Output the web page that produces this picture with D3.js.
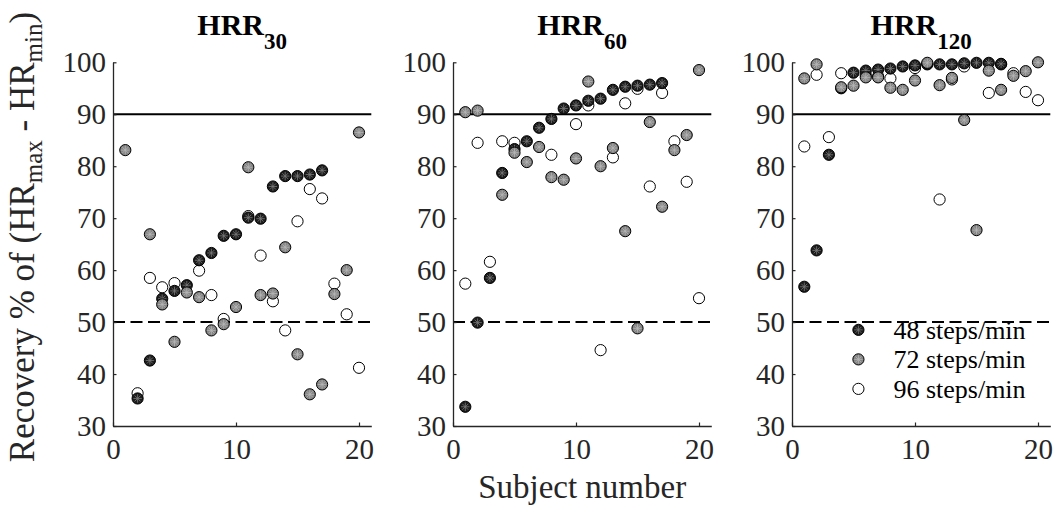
<!DOCTYPE html>
<html>
<head>
<meta charset="utf-8">
<script src="https://cdn.jsdelivr.net/npm/d3@7"></script>
<style>
  body { margin: 0; background: #fff; }
  svg { display: block; font-family: "Liberation Serif", "Times New Roman", serif; }
</style>
</head>
<body>
<div id="chart"></div>
<script>
// Subjects and recovery values (%); null = no marker visible
const subjects = [1, 2, 3, 4, 5, 6, 7, 8, 9, 10, 11, 12, 13, 14, 15, 16, 17, 18, 19, 20];

const hrr30_48 = [null, 35.3, 42.6, 54.5, 56.0, 57.1, 61.9, 63.3, 66.6, 66.9, 70.1, 69.9, 76.1, 78.1, 78.1, 78.4, 79.2, null, null, null];
const hrr30_72 = [83.1, null, 66.9, 53.4, 46.2, 55.7, 54.8, 48.4, 49.6, 52.9, 79.8, 55.2, 55.5, 64.4, 43.8, 36.1, 38.0, 55.4, 60.0, 86.5];
const hrr30_96 = [null, 36.3, 58.5, 56.7, 57.5, null, 59.9, 55.2, 50.6, null, 70.4, 62.8, 54.0, 48.4, 69.4, 75.6, 73.8, 57.4, 51.5, 41.2];

const hrr60_48 = [33.7, 49.9, 58.5, 78.7, 83.3, 84.8, 87.4, 89.1, 91.1, 91.7, 92.6, 93.0, 94.7, 95.3, 95.5, 95.7, 96.0, null, null, null];
const hrr60_72 = [90.4, 90.7, null, 74.5, 82.6, 80.8, 83.7, 77.9, 77.4, 81.5, 96.3, 80.0, 83.5, 67.5, 48.8, 88.5, 72.2, 83.1, 86.0, 98.5];
const hrr60_96 = [57.4, 84.5, 61.6, 84.8, 84.5, null, null, 82.2, null, 88.1, 91.7, 44.6, 81.7, 92.1, 94.9, 76.1, 94.1, 84.8, 77.0, 54.6];

const hrr120_48 = [56.8, 63.8, 82.2, 95.0, 98.0, 98.4, 98.6, 98.8, 99.2, 99.4, 99.6, 99.6, 99.6, 99.8, 99.9, 99.9, 99.7, null, null, null];
const hrr120_72 = [96.9, 99.6, null, 95.2, 95.5, 97.1, 97.1, 95.1, 94.7, 96.5, 99.9, 95.6, 97.0, 88.9, 67.7, 98.4, 94.7, 97.4, 98.3, 100.0];
const hrr120_96 = [83.8, 97.6, 85.6, 97.9, null, 97.5, 97.3, 96.9, null, 98.9, 99.7, 73.6, 96.7, 99.2, null, 94.1, 99.6, 97.9, 94.3, 92.7];

const panelNames = ['30', '60', '120'];
const seriesNames = ['48 steps/min', '72 steps/min', '96 steps/min'];
const xTicks = [0, 10, 20];
const yTicks = [30, 40, 50, 60, 70, 80, 90, 100];
const refLines = [90, 50];

const panels = [
  [hrr30_48, hrr30_72, hrr30_96],
  [hrr60_48, hrr60_72, hrr60_96],
  [hrr120_48, hrr120_72, hrr120_96]
];

const W = 1055, H = 505;
const axisColor = '#262626';
const fills = ['#1c1c1c', '#858585', '#ffffff'];
const starColors = ['#7a7a7a', '#b8b8b8', null];
const drawOrder = [2, 0, 1]; // white markers sit underneath, gray on top
const panelLeft = [113, 453, 792];
const panelW = 258.3;
const plotTop = 62.3, plotBottom = 426;
const R = 5.6;

const svg = d3.select('#chart').append('svg')
  .attr('width', W)
  .attr('height', H);

const y = d3.scaleLinear().domain([30, 100]).range([plotBottom, plotTop]);

// small asterisk drawn over filled markers (MATLAB-like look)
function star(r) {
  const d = r * 0.75, k = d * Math.SQRT1_2;
  return `M${-d},0L${d},0M0,${-d}L0,${d}M${-k},${-k}L${k},${k}M${-k},${k}L${k},${-k}`;
}

function marker(sel, s) {
  sel.append('circle')
    .attr('r', R)
    .attr('fill', fills[s])
    .attr('stroke', '#000')
    .attr('stroke-width', 1);
  if (starColors[s]) {
    sel.append('path')
      .attr('d', star(R))
      .attr('stroke', starColors[s])
      .attr('stroke-width', 0.8)
      .attr('fill', 'none');
  }
}

panels.forEach((series, p) => {
  const x = d3.scaleLinear().domain([0, 21]).range([panelLeft[p], panelLeft[p] + panelW]);
  const g = svg.append('g');

  // reference lines
  g.selectAll('line.ref')
    .data(refLines)
    .join('line')
    .attr('class', 'ref')
    .attr('x1', x(0)).attr('x2', x(21))
    .attr('y1', d => y(d)).attr('y2', d => y(d))
    .attr('stroke', '#000')
    .attr('stroke-width', 2)
    .attr('stroke-dasharray', d => d === 50 ? '12,5.5' : null);

  // axes
  const xAxis = g.append('g')
    .attr('transform', `translate(0,${plotBottom})`)
    .call(d3.axisBottom(x).tickValues(xTicks).tickSize(-3.5).tickSizeOuter(0).tickPadding(8));
  const yAxis = g.append('g')
    .attr('transform', `translate(${x(0)},0)`)
    .call(d3.axisLeft(y).tickValues(yTicks).tickSize(-3.5).tickSizeOuter(0).tickPadding(7));

  [xAxis, yAxis].forEach(a => {
    a.select('.domain').attr('stroke', axisColor).attr('stroke-width', 1.3);
    a.selectAll('.tick line').attr('stroke', axisColor).attr('stroke-width', 1.2);
    a.selectAll('.tick text')
      .attr('fill', axisColor)
      .style('font-size', '29px')
      .style('font-family', '"Liberation Serif", "Times New Roman", serif');
  });
  xAxis.selectAll('.tick text').attr('dy', '0.85em');

  // markers
  drawOrder.forEach(s => {
    const vals = series[s];
    const pts = subjects.map((d, i) => ({ subj: d, v: vals[i] })).filter(d => d.v != null);
    g.append('g').selectAll('g')
      .data(pts)
      .join('g')
      .attr('transform', d => `translate(${x(d.subj)},${y(d.v)})`)
      .each(function () { marker(d3.select(this), s); });
  });

  // title
  const t = svg.append('text')
    .attr('x', (x(0) + x(21)) / 2)
    .attr('y', 35)
    .attr('text-anchor', 'middle')
    .style('font-weight', 'bold')
    .style('font-size', '30px')
    .attr('fill', '#000');
  t.append('tspan').text('HRR');
  t.append('tspan').attr('dy', 14).style('font-size', '23px').text(panelNames[p]);

  // legend in the last panel
  if (p === 2) {
    const leg = svg.append('g');
    seriesNames.forEach((name, s) => {
      const row = leg.append('g')
        .attr('transform', `translate(${x(5.4)},${y(48.5) + s * 29.5})`);
      marker(row, s);
      row.append('text')
        .attr('x', 35)
        .attr('dy', '0.34em')
        .style('font-size', '26px')
        .attr('fill', '#000')
        .text(name);
    });
  }
});

// y label
const yl = svg.append('text')
  .attr('transform', `translate(34,237) rotate(-90)`)
  .attr('text-anchor', 'middle')
  .style('font-size', '35px')
  .attr('fill', axisColor);
yl.append('tspan').text('Recovery % of (HR');
yl.append('tspan').attr('dy', 8).style('font-size', '25px').text('max');
yl.append('tspan').attr('dy', -8).text(' - HR');
yl.append('tspan').attr('dy', 8).style('font-size', '25px').text('min');
yl.append('tspan').attr('dy', -8).text(')');

// x label
svg.append('text')
  .attr('x', panelLeft[1] + panelW / 2)
  .attr('y', 498)
  .attr('text-anchor', 'middle')
  .style('font-size', '33px')
  .attr('fill', axisColor)
  .text('Subject number');
</script>
</body>
</html>
